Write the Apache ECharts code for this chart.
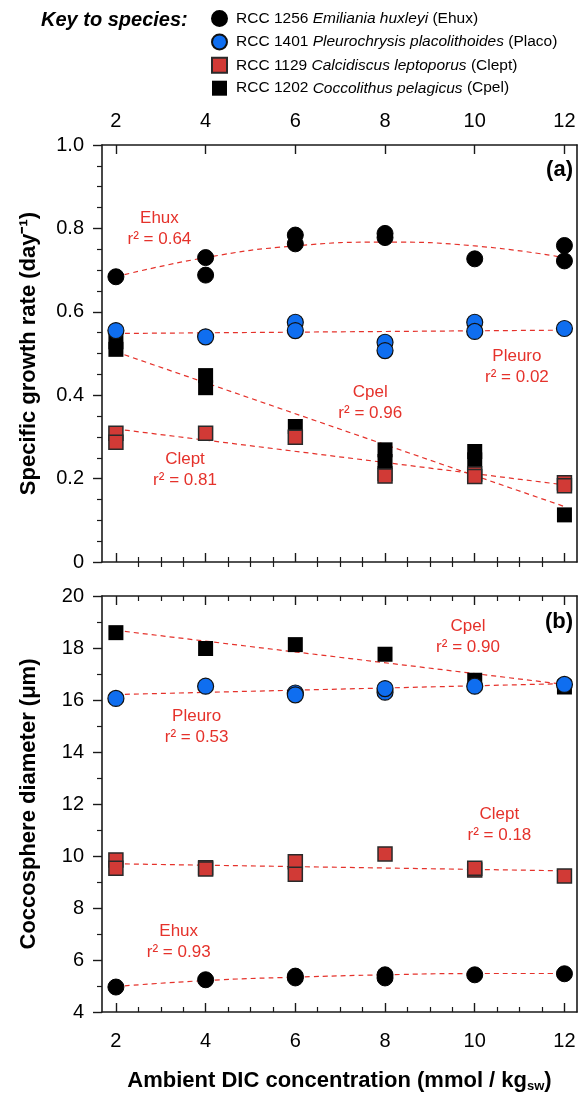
<!DOCTYPE html>
<html>
<head>
<meta charset="utf-8">
<script src="https://cdn.jsdelivr.net/npm/echarts@6/dist/echarts.min.js"></script>
<style>
  html, body { margin: 0; padding: 0; background: #fff; }
  #main { width: 579px; height: 1094px; }
</style>
</head>
<body>
<div id="main"></div>
<script>
const chartDom = document.getElementById('main');
const myChart = echarts.init(chartDom);

// species keys, legend text
const speciesKeys = ['Ehux', 'Placo', 'Clept', 'Cpel'];
const speciesCodes = ['RCC 1256', 'RCC 1401', 'RCC 1129', 'RCC 1202'];
const speciesNames = ['Emiliania huxleyi', 'Pleurochrysis placolithoides', 'Calcidiscus leptoporus', 'Coccolithus pelagicus'];

// tick values on the DIC axis
const dicMajor = [2, 4, 6, 8, 10, 12];
const dicMinor = [2.5, 3, 3.5, 4.5, 5, 5.5, 6.5, 7, 7.5, 8.5, 9, 9.5, 10.5, 11, 11.5];

// (a) specific growth rate, [DIC, rate]
const growthEhux = [[2, 0.684], [4, 0.730], [4, 0.688], [6, 0.784], [6, 0.763], [8, 0.788], [8, 0.778], [10, 0.727], [12, 0.759], [12, 0.722]];
const growthPlaco = [[2, 0.555], [4, 0.540], [6, 0.575], [6, 0.555], [8, 0.527], [8, 0.507], [10, 0.575], [10, 0.553], [12, 0.560]];
const growthClept = [[2, 0.309], [2, 0.287], [4, 0.309], [6, 0.299], [8, 0.206], [10, 0.211], [10, 0.205], [12, 0.190], [12, 0.183]];
const growthCpel = [[2, 0.528], [2, 0.510], [4, 0.447], [4, 0.418], [6, 0.325], [8, 0.269], [8, 0.241], [8, 0.212], [10, 0.265], [10, 0.245], [12, 0.113]];

// (a) regression curves
const fitGrowthEhux = [[2, 0.684], [4, 0.730], [6, 0.758], [8, 0.767], [10, 0.758], [12, 0.730]];
const fitGrowthPlaco = [[2, 0.548], [12, 0.556]];
const fitGrowthClept = [[2, 0.319], [12, 0.185]];
const fitGrowthCpel = [[2, 0.504], [12, 0.133]];

// (b) coccosphere diameter, [DIC, um]
const diamEhux = [[2, 4.96], [4, 5.24], [6, 5.31], [6, 5.38], [8, 5.43], [8, 5.31], [10, 5.43], [12, 5.47]];
const diamPlaco = [[2, 16.06], [4, 16.53], [6, 16.27], [6, 16.20], [8, 16.30], [8, 16.44], [10, 16.53], [12, 16.60]];
const diamClept = [[2, 9.85], [2, 9.53], [4, 9.55], [4, 9.50], [6, 9.78], [6, 9.30], [8, 10.08], [10, 9.46], [10, 9.53], [12, 9.23]];
const diamCpel = [[2, 18.59], [4, 17.98], [6, 18.13], [8, 17.76], [10, 16.76], [12, 16.50]];

// (b) regression curves
const fitDiamEhux = [[2, 4.98], [4, 5.21], [6, 5.34], [8, 5.43], [10, 5.48], [12, 5.48]];
const fitDiamPlaco = [[2, 16.21], [12, 16.63]];
const fitDiamClept = [[2, 9.70], [12, 9.43]];
const fitDiamCpel = [[2, 18.68], [12, 16.60]];

// r2 notes: [x, y, name, r2]
const notesGrowth = [[2.97, 0.799, 'Ehux', '0.64'], [10.94, 0.469, 'Pleuro', '0.02'], [7.67, 0.382, 'Cpel', '0.96'], [3.54, 0.22, 'Clept', '0.81']];
const notesDiam = [[9.85, 18.42, 'Cpel', '0.90'], [3.80, 14.98, 'Pleuro', '0.53'], [10.55, 11.2, 'Clept', '0.18'], [3.40, 6.70, 'Ehux', '0.93']];

const FONT = 'Arial, "Liberation Sans", sans-serif';
const AXIS_COLOR = '#1a1a1a';
const FIT_RED = '#e5322b';

const markerStyle = {
  Ehux: { symbol: 'circle', symbolSize: 16, itemStyle: { color: '#000', borderColor: '#000', borderWidth: 1, opacity: 1 } },
  Placo: { symbol: 'circle', symbolSize: 16, itemStyle: { color: '#0f6ef0', borderColor: '#111', borderWidth: 1.2, opacity: 1 } },
  Clept: { symbol: 'rect', symbolSize: 14, itemStyle: { color: '#d13a36', borderColor: '#2a2a2a', borderWidth: 1.5, opacity: 1 } },
  Cpel: { symbol: 'rect', symbolSize: 15, itemStyle: { color: '#000', borderColor: '#000', borderWidth: 0, opacity: 1 } }
};

function xAxes(gridIndex, labelsTop) {
  const base = {
    gridIndex: gridIndex,
    type: 'value',
    min: 1.69,
    max: 12.28,
    splitLine: { show: false }
  };
  const labelStyle = { show: true, customValues: dicMajor, fontSize: 20, color: '#000', fontFamily: FONT };
  return [
    Object.assign({}, base, {
      position: 'bottom',
      axisLine: { show: true, onZero: false, lineStyle: { color: AXIS_COLOR, width: 1.6 } },
      axisTick: { show: true, inside: true, length: 9, customValues: dicMajor, lineStyle: { color: AXIS_COLOR, width: 1.4 } },
      axisLabel: labelsTop ? { show: false } : Object.assign({ margin: 19 }, labelStyle)
    }),
    Object.assign({}, base, {
      position: 'top',
      axisLine: { show: true, onZero: false, lineStyle: { color: AXIS_COLOR, width: 1.6 } },
      axisTick: { show: true, inside: true, length: 9, customValues: dicMajor, lineStyle: { color: AXIS_COLOR, width: 1.4 } },
      axisLabel: labelsTop ? Object.assign({ margin: 14 }, labelStyle) : { show: false }
    }),
    Object.assign({}, base, {
      position: 'bottom',
      axisLine: { show: false },
      axisTick: { show: true, inside: true, length: 5, customValues: dicMinor, lineStyle: { color: AXIS_COLOR, width: 1.2 } },
      axisLabel: { show: false }
    }),
    Object.assign({}, base, {
      position: 'top',
      axisLine: { show: false },
      axisTick: { show: true, inside: true, length: 5, customValues: dicMinor, lineStyle: { color: AXIS_COLOR, width: 1.2 } },
      axisLabel: { show: false }
    })
  ];
}

function yAxes(gridIndex, min, max, interval, minorSplit, name, fmt) {
  return [
    {
      gridIndex: gridIndex,
      type: 'value',
      position: 'left',
      min: min,
      max: max,
      interval: interval,
      name: name,
      nameLocation: 'middle',
      nameGap: 62,
      nameTextStyle: { fontSize: 22, fontWeight: 'bold', color: '#000', fontFamily: FONT },
      axisLine: { show: true, onZero: false, lineStyle: { color: AXIS_COLOR, width: 1.6 } },
      axisTick: { show: true, inside: false, length: 9, lineStyle: { color: AXIS_COLOR, width: 1.4 } },
      minorTick: { show: true, splitNumber: minorSplit, length: 5, lineStyle: { color: AXIS_COLOR, width: 1.2 } },
      axisLabel: { fontSize: 20, color: '#000', margin: 18, fontFamily: FONT, formatter: fmt },
      splitLine: { show: false }
    },
    {
      gridIndex: gridIndex,
      type: 'value',
      position: 'right',
      min: min,
      max: max,
      axisLine: { show: true, onZero: false, lineStyle: { color: AXIS_COLOR, width: 1.6 } },
      axisTick: { show: false },
      axisLabel: { show: false },
      splitLine: { show: false }
    }
  ];
}

function fitSeries(data, xi, yi, smooth) {
  return {
    type: 'line',
    xAxisIndex: xi,
    yAxisIndex: yi,
    data: data,
    smooth: smooth ? 0.5 : false,
    showSymbol: false,
    silent: true,
    z: 1,
    lineStyle: { color: FIT_RED, width: 1.2, type: [5, 4] }
  };
}

function pointSeries(key, data, xi, yi, z) {
  return Object.assign({
    name: key,
    type: 'scatter',
    xAxisIndex: xi,
    yAxisIndex: yi,
    data: data,
    z: z
  }, markerStyle[key]);
}

function noteSeries(notes, xi, yi) {
  return {
    type: 'scatter',
    xAxisIndex: xi,
    yAxisIndex: yi,
    silent: true,
    symbolSize: 1,
    itemStyle: { color: 'rgba(0,0,0,0)', opacity: 1 },
    z: 5,
    data: notes.map(n => ({ value: [n[0], n[1]], note: n[2] + '\nr\u00b2 = ' + n[3] })),
    label: {
      show: true,
      position: 'inside',
      align: 'center',
      verticalAlign: 'middle',
      color: FIT_RED,
      opacity: 1,
      fontSize: 17,
      lineHeight: 21,
      fontFamily: FONT,
      formatter: p => p.data.note
    }
  };
}

const legendRich = {
  n: { fontSize: 15.5, color: '#000', fontFamily: FONT },
  i: { fontSize: 15.5, color: '#000', fontStyle: 'italic', fontFamily: FONT }
};

const myChartOption = {
  backgroundColor: '#fff',
  animation: false,
  textStyle: { fontFamily: FONT },
  graphic: [
    {
      type: 'text',
      left: 41,
      top: 10,
      style: { text: 'Key to species:', font: 'italic bold 20px ' + FONT, fill: '#000' }
    },
    {
      type: 'text',
      right: 6,
      top: 159,
      style: { text: '(a)', font: 'bold 22px ' + FONT, fill: '#000' }
    },
    {
      type: 'text',
      right: 6,
      top: 611,
      style: { text: '(b)', font: 'bold 22px ' + FONT, fill: '#000' }
    }
  ],
  legend: {
    orient: 'vertical',
    left: 211,
    top: 10,
    padding: 0,
    itemWidth: 15,
    itemHeight: 15,
    itemGap: 6.4,
    selectedMode: false,
    data: speciesKeys,
    formatter: function (name) {
      const i = speciesKeys.indexOf(name);
      return '{n|' + speciesCodes[i] + ' }{i|' + speciesNames[i] + '}{n| (' + name + ')}';
    },
    textStyle: { rich: legendRich, padding: [0, 0, 0, 4] }
  },
  grid: [
    { left: 102, top: 145, width: 475, height: 417, containLabel: false },
    { left: 102, top: 596, width: 475, height: 416, containLabel: false }
  ],
  xAxis: xAxes(0, true).concat(xAxes(1, false)).map((ax, k) => {
    if (k === 4) {
      ax.name = 'Ambient DIC concentration (mmol / kg{sub|sw})';
      ax.nameLocation = 'middle';
      ax.nameGap = 56;
      ax.nameTextStyle = {
        fontSize: 22, fontWeight: 'bold', color: '#000', fontFamily: FONT,
        rich: { sub: { fontSize: 13, fontWeight: 'bold', color: '#000', fontFamily: FONT, padding: [12, 0, 0, 0] } }
      };
    }
    return ax;
  }),
  yAxis: yAxes(0, 0, 1, 0.2, 4, 'Specific growth rate (day\u207b\u00b9)', v => (v === 0 ? '0' : v.toFixed(1)))
    .concat(yAxes(1, 4, 20, 2, 2, 'Coccosphere diameter (\u03bcm)', v => String(v))),
  series: [
    fitSeries(fitGrowthEhux, 0, 0, true),
    fitSeries(fitGrowthPlaco, 0, 0, false),
    fitSeries(fitGrowthClept, 0, 0, false),
    fitSeries(fitGrowthCpel, 0, 0, false),
    pointSeries('Cpel', growthCpel, 0, 0, 2),
    pointSeries('Clept', growthClept, 0, 0, 3),
    pointSeries('Placo', growthPlaco, 0, 0, 4),
    pointSeries('Ehux', growthEhux, 0, 0, 4),
    noteSeries(notesGrowth, 0, 0),

    fitSeries(fitDiamEhux, 4, 2, true),
    fitSeries(fitDiamPlaco, 4, 2, false),
    fitSeries(fitDiamClept, 4, 2, false),
    fitSeries(fitDiamCpel, 4, 2, false),
    pointSeries('Cpel', diamCpel, 4, 2, 2),
    pointSeries('Clept', diamClept, 4, 2, 3),
    pointSeries('Placo', diamPlaco, 4, 2, 4),
    pointSeries('Ehux', diamEhux, 4, 2, 4),
    noteSeries(notesDiam, 4, 2)
  ]
};

myChartOption && myChart.setOption(myChartOption);
</script>
</body>
</html>
